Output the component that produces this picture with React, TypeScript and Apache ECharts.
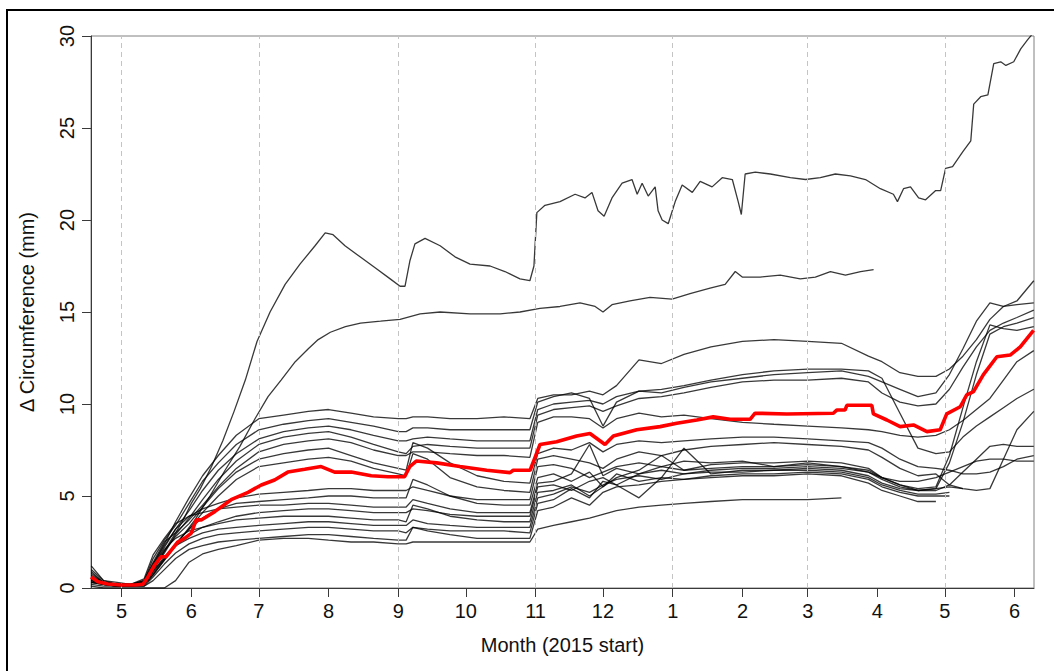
import { useEffect, useRef } from "react";
import * as echarts from "echarts";

// Day-of-year counted from 1 Jan 2015 (day 0); 2016 is a leap year.
const monthDays = [120, 151, 181, 212, 243, 273, 304, 334, 365, 396, 425, 456, 486, 517];
const monthLabels = ["5", "6", "7", "8", "9", "10", "11", "12", "1", "2", "3", "4", "5", "6"];
const dashedMonths = [120, 181, 243, 304, 365, 425, 486];

// Shared measurement days for the band of trees in the middle of the plot.
const gridDays = [
  106.5, 112, 118, 124, 130, 134, 139, 144, 150, 156, 163, 171, 181,
  192, 203, 212, 222, 232, 243, 246.5, 249.5, 256, 266, 278, 290, 301.5,
  305, 312, 320, 328, 334, 340, 350, 360, 370, 382, 396, 410, 425, 440, 452,
  458, 466, 474, 482, 488, 494, 500, 506, 512, 518, 525.5,
];

const tree01 = [0.9, 0.3, 0.2, 0.2, 0.3, 1.3, 2.4, 3.6, 4.9, 6.1, 7.2, 8.3, 9.2,
  9.4, 9.6, 9.7, 9.5, 9.3, 9.2, 9.2, 9.3, 9.3, 9.2, 9.2, 9.3, 9.2,
  10.3, 10.5, 10.5, 10.7, 10.5, 11.0, 12.4, 12.2, 12.7, 13.1, 13.4, 13.5, 13.4, 13.3, 12.6, 12.3, 11.7, 11.5,
  11.5, 11.9, 12.6, 13.5, 14.6, 15.3, 15.6, 16.7];
const tree02 = [1.2, 0.4, 0.2, 0.2, 0.4, 1.6, 2.6, 3.4, 4.6, 5.8, 6.8, 7.8, 8.6,
  8.9, 9.1, 9.2, 9.0, 8.8, 8.5, 8.5, 8.7, 8.7, 8.6, 8.6, 8.6, 8.6,
  10.1, 10.4, 10.6, 10.3, 8.8, 10.1, 10.7, 10.8, 11.0, 11.3, 11.6, 11.8, 11.9, 11.9, 11.8, 11.4, 9.5, 7.6,
  7.3, 7.4, 8.2, 8.8, 9.3, 9.8, 10.3, 10.8];
const tree03 = [0.7, 0.3, 0.2, 0.1, 0.3, 1.2, 2.2, 3.2, 4.2, 5.3, 6.4, 7.3, 8.1,
  8.5, 8.7, 8.8, 8.6, 8.3, 8.0, 8.0, 8.1, 8.2, 8.1, 8.0, 8.0, 8.0,
  9.7, 10.0, 10.1, 10.2, 10.0, 10.4, 10.7, 10.6, 10.9, 11.2, 11.4, 11.6, 11.7, 11.8, 11.5, 11.2, 10.8, 10.4,
  10.6, 11.6, 13.0, 14.5, 15.5, 15.3, 15.4, 15.5];
const tree04 = [0.5, 0.2, 0.1, 0.1, 0.2, 1.0, 1.9, 2.9, 3.8, 4.8, 5.9, 6.9, 7.8,
  8.2, 8.4, 8.5, 8.2, 7.8, 7.4, 7.3, 7.7, 7.8, 7.7, 7.6, 7.6, 7.6,
  9.4, 9.7, 9.8, 9.9, 9.6, 9.9, 10.3, 10.4, 10.6, 10.9, 11.2, 11.3, 11.3, 11.4, 11.2, 10.6, 10.1, 9.9,
  10.0, 10.8, 12.0, 13.1, 14.0, 14.4, 14.7, 15.1];
const tree05 = [1.0, 0.4, 0.3, 0.2, 0.4, 1.4, 2.5, 3.0, 3.7, 4.5, 5.5, 6.5, 7.4,
  7.8, 8.0, 8.1, 7.9, 7.5, 7.2, 7.2, 7.4, 7.4, 7.3, 7.2, 7.2, 7.1,
  9.0, 9.3, 9.3, 9.2, 8.7, 9.2, 9.5, 9.3, 9.4, 9.2, 9.0, 8.9, 8.8, 8.7, 8.6, 8.5, 8.3, 8.2,
  8.3, 8.6, 9.1, 9.7, 10.3, 11.3, 12.3, 12.9];
const tree06 = [0.6, 0.3, 0.2, 0.1, 0.3, 1.1, 2.0, 2.8, 3.5, 4.4, 5.4, 6.3, 7.0,
  7.3, 7.5, 7.6, 7.2, 6.8, 6.5, 6.4, 7.9, 7.6, 6.8, 6.1, 5.8, 5.7,
  7.3, 7.6, 7.5, 7.9, 7.4, 7.8, 8.0, 7.9, 8.0, 8.1, 8.2, 8.2, 8.1, 8.0, 7.9, 7.6, 7.0, 6.6,
  6.5, 6.4, 6.2, 6.2, 6.3, 6.6, 7.0, 7.2];
const tree07 = [0.8, 0.3, 0.2, 0.2, 0.3, 0.9, 1.6, 2.4, 3.2, 4.1, 5.0, 5.9, 6.6,
  6.8, 7.0, 7.1, 6.9, 6.5, 6.2, 6.1, 7.3, 7.0, 6.0, 5.5, 5.3, 5.2,
  7.0, 7.2, 7.0, 6.8, 6.5, 7.0, 7.4, 7.2, 7.5, 7.7, 7.8, 7.9, 7.8, 7.7, 7.5, 7.1, 6.5, 6.1,
  6.2, 5.6, 5.4, 5.3, 5.4, 7.0, 8.6, 9.6];
const tree08 = [0.4, 0.2, 0.1, 0.1, 0.4, 1.3, 2.3, 3.2, 3.9, 4.3, 4.6, 4.9, 5.1,
  5.2, 5.3, 5.4, 5.4, 5.3, 5.3, 5.3, 5.5, 5.3, 5.0, 4.8, 4.8, 4.8,
  6.6, 6.7, 6.5, 6.0, 6.3, 6.6, 6.8, 6.6, 6.9, 6.8, 6.9, 6.6, 6.8, 6.6, 6.4, 6.0, 5.6, 5.3,
  5.4, 6.8, 9.0, 11.6, 13.8, 14.2, 14.4, 14.7];
const tree09 = [0.3, 0.2, 0.1, 0.1, 0.2, 0.8, 1.6, 2.4, 3.2, 3.8, 4.3, 4.6, 4.7,
  4.8, 4.9, 5.0, 5.0, 4.9, 4.9, 4.9, 5.9, 5.6, 5.0, 4.6, 4.5, 4.5,
  6.0, 6.2, 5.8, 6.3, 5.5, 6.0, 6.4, 7.2, 6.4, 6.5, 6.6, 6.6, 6.7, 6.6, 6.3, 5.9, 5.5, 5.3,
  5.3, 5.6, 6.3, 7.0, 7.7, 7.8, 7.7, 7.7];
const tree10 = [0.5, 0.3, 0.2, 0.2, 0.5, 1.8, 2.7, 3.5, 3.9, 4.1, 4.3, 4.4, 4.5,
  4.5, 4.6, 4.6, 4.5, 4.4, 4.4, 4.4, 4.8, 4.6, 4.3, 4.1, 4.1, 4.1,
  5.7, 5.8, 6.2, 7.8, 6.1, 6.5, 6.2, 6.6, 6.4, 6.7, 6.8, 6.8, 6.9, 6.8, 6.5, 6.0, 5.6, 5.4,
  5.5, 7.2, 9.8, 12.3, 14.3, 14.1, 14.0, 14.2];
const tree11 = [0.3, 0.2, 0.1, 0.1, 0.2, 0.7, 1.5, 2.3, 2.9, 3.3, 3.6, 3.9, 4.1,
  4.2, 4.3, 4.3, 4.2, 4.1, 4.1, 4.1, 4.3, 4.2, 4.0, 3.9, 3.9, 3.9,
  5.5, 5.6, 5.3, 5.8, 6.0, 5.6, 6.2, 6.4, 6.2, 6.4, 6.5, 6.5, 6.6, 6.5, 6.3, 6.0, 5.8, 5.8,
  6.0, 6.3, 6.6, 6.9, 7.0, 7.0, 6.9, 6.9];
const tree12 = [0.6, 0.2, 0.2, 0.1, 0.3, 1.2, 2.1, 2.7, 3.1, 3.3, 3.5, 3.7, 3.8,
  3.9, 3.9, 3.9, 3.8, 3.7, 3.7, 3.6, 4.5, 4.3, 3.9, 3.7, 3.6, 3.6,
  5.2, 5.3, 5.6, 5.0, 5.5, 6.2, 5.8, 6.0, 7.6, 6.2, 6.4, 6.4, 6.5, 6.4, 6.1, 5.7, 5.4, 5.3,
  5.4, 5.5, 5.4, null, null, null, null, null];
const tree13 = [0.4, 0.3, 0.2, 0.2, 0.2, 0.9, 1.7, 2.3, 2.7, 3.0, 3.2, 3.3, 3.4,
  3.5, 3.6, 3.6, 3.5, 3.4, 3.4, 3.4, 3.7, 3.5, 3.4, 3.3, 3.3, 3.3,
  4.9, 5.1, 5.5, 5.2, 5.6, 5.9, 6.1, 5.9, 6.2, 6.3, 6.3, 6.4, 6.4, 6.3, 6.0, 5.6, 5.3, 5.1,
  5.1, 5.2, null, null, null, null, null, null];
const tree14 = [0.3, 0.2, 0.1, 0.1, 0.1, 0.6, 1.3, 1.9, 2.4, 2.7, 2.9, 3.0, 3.1,
  3.2, 3.3, 3.3, 3.2, 3.1, 3.1, 3.0, 3.3, 3.2, 3.1, 3.1, 3.1, 3.0,
  4.6, 4.8, 5.4, 4.9, 5.8, 5.6, 4.9, 6.0, 5.9, 6.1, 6.2, 6.2, 6.3, 6.2, 5.9, 5.5, 5.2, 5.0,
  5.0, 5.0, null, null, null, null, null, null];
const tree15 = [0.2, 0.1, 0.1, 0.1, 0.1, 0.4, 1.0, 1.6, 2.1, 2.3, 2.5, 2.6, 2.7,
  2.8, 2.9, 2.9, 2.8, 2.7, 2.6, 2.6, 3.3, 3.1, 2.9, 2.7, 2.7, 2.7,
  4.2, 4.4, 4.9, 4.5, 5.2, 5.5, 5.6, 5.8, 5.9, 6.0, 6.1, 6.1, 6.2, 6.1, 5.7, 5.3, 5.0, 4.7,
  4.7, null, null, null, null, null, null, null];
const tree16 = [0.1, 0.0, 0.0, 0.0, 0.0, 0.0, 0.0, 0.4, 1.4, 1.85, 2.1, 2.3, 2.6,
  2.7, 2.7, 2.6, 2.5, 2.5, 2.4, 2.4, 2.5, 2.5, 2.5, 2.5, 2.5, 2.5,
  3.2, 3.4, 3.6, 3.8, 4.0, 4.2, 4.4, 4.5, 4.6, 4.7, 4.8, 4.8, 4.8, 4.9, null, null, null, null,
  null, null, null, null, null, null, null, null];

const bandTrees = [tree01, tree02, tree03, tree04, tree05, tree06, tree07, tree08,
  tree09, tree10, tree11, tree12, tree13, tree14, tree15, tree16];

// The two fastest-growing trees, as [day, mm] pairs.
const treeTop: [number, number][] = [
  [106.5, 0.5], [113, 0.2], [120, 0.1], [128, 0.2], [132, 0.5], [137, 1.6], [142, 2.6], [147, 3.6],
  [151, 4.6], [155, 5.4], [160, 6.6], [165, 8.0], [170, 9.6], [175, 11.3], [180.2, 13.4], [186, 15.0],
  [192.7, 16.5], [199.3, 17.6], [206, 18.6], [210.5, 19.3], [214, 19.2], [219.3, 18.6], [226, 18.0],
  [232.7, 17.4], [239.4, 16.8], [243.8, 16.4], [246, 16.4], [248.2, 17.8], [250.4, 18.7], [254.9, 19.0],
  [261.6, 18.6], [268.2, 18.0], [274.9, 17.6], [283.8, 17.5], [290.4, 17.2], [297.1, 16.8], [301.5, 16.7],
  [303.3, 17.5], [304.6, 20.4], [308.2, 20.8], [314.9, 21.0], [321.6, 21.4], [326, 21.2], [329.1, 21.5],
  [331.8, 20.5], [334.5, 20.2], [338, 21.2], [342.5, 22.0], [346.9, 22.2], [349.2, 21.4], [351.4, 22.0],
  [354.1, 21.3], [357.2, 21.8], [358.5, 20.5], [360.3, 20.0], [363, 19.8], [366.1, 21.0], [369.2, 21.9],
  [373.7, 21.5], [377.2, 22.1], [382.5, 21.8], [387, 22.3], [391.5, 22.2], [394.1, 21.0], [395.5, 20.3],
  [397.2, 22.5], [401.7, 22.6], [408.4, 22.5], [417.3, 22.3], [424, 22.2], [430.6, 22.3], [437.3, 22.5],
  [444, 22.4], [450.7, 22.2], [457.3, 21.7], [463.1, 21.4], [464.9, 21.0], [467.6, 21.7], [470.7, 21.8],
  [474.3, 21.2], [477.4, 21.1], [481.9, 21.6], [484.1, 21.6], [486.3, 22.8], [489.4, 22.9], [493.9, 23.7],
  [497.5, 24.3], [498.8, 26.3], [501.9, 26.7], [505.1, 26.8], [507.7, 28.5], [510.8, 28.6], [513.1, 28.4],
  [516.6, 28.6], [519.7, 29.3], [522.8, 29.8], [525.5, 30.2],
];
const treeSecond: [number, number][] = [
  [106.5, 0.4], [113, 0.2], [120, 0.1], [128, 0.2], [132, 0.4], [137, 1.2], [142, 2.0], [147, 2.8],
  [152.6, 3.7], [159.3, 5.0], [166, 6.4], [172.6, 7.7], [179.3, 9.2], [185.1, 10.4], [190.9, 11.3],
  [197.2, 12.3], [203, 13.0], [207.4, 13.5], [212.8, 13.9], [219.5, 14.2], [226.2, 14.4], [235.1, 14.5],
  [243.8, 14.6], [252.7, 14.9], [261.6, 15.0], [274.9, 14.9], [288.3, 14.9], [297.1, 15.0], [306, 15.2],
  [314.9, 15.3], [323.8, 15.5], [330.5, 15.3], [334, 15.0], [338, 15.4], [346, 15.6], [354.9, 15.8],
  [364.7, 15.7], [372.7, 16.0], [381.6, 16.3], [388.3, 16.5], [392.8, 17.2], [395.9, 16.9], [403.9, 16.9],
  [412.8, 17.0], [421.7, 16.8], [428.4, 16.9], [435.1, 17.2], [441.8, 17.0], [448.5, 17.2], [454.3, 17.3],
];

// Mean of all trees, as [day, mm] pairs.
const meanLine: [number, number][] = [
  [106.4, 0.6], [109.5, 0.34], [113.9, 0.22], [119.7, 0.16], [125.9, 0.16], [129.5, 0.2], [131.7, 0.6],
  [134.7, 1.25], [137.6, 1.7], [139.8, 1.7], [142.1, 2.06], [145, 2.5], [148, 2.7], [150.9, 2.97],
  [153.2, 3.7], [155.4, 3.7], [161.4, 4.15], [168.7, 4.8], [176.2, 5.2], [182.1, 5.6], [188, 5.87],
  [193.9, 6.3], [201.4, 6.45], [208.7, 6.6], [214.7, 6.3], [222.1, 6.3], [231, 6.1], [238.4, 6.05],
  [245.8, 6.05], [248.1, 6.6], [251, 6.9], [260.1, 6.8], [270.4, 6.6], [282.3, 6.4], [292.7, 6.27],
  [294.1, 6.4], [301.6, 6.4], [303.8, 7.1], [306, 7.8], [313.4, 7.95], [322.3, 8.26], [328.2, 8.4],
  [334.9, 7.8], [338.6, 8.26], [349, 8.6], [359.4, 8.77], [366.8, 8.95], [375.7, 9.13], [383, 9.3],
  [390.5, 9.17], [399.4, 9.17], [401.6, 9.5], [415.7, 9.46], [436.4, 9.5], [437.9, 9.67], [441.6, 9.67],
  [442.4, 9.93], [453.5, 9.93], [454.2, 9.46], [460.2, 9.13], [466.1, 8.77], [472, 8.86], [478, 8.5],
  [483.9, 8.6], [486.8, 9.46], [492.8, 9.85], [495.7, 10.5], [498.7, 10.67], [503.1, 11.6],
  [509.1, 12.57], [515, 12.66], [519.5, 13.1], [525.4, 14.0],
];

const FONT = "'Liberation Sans', Arial, Helvetica, sans-serif";
const TEXT = "#111";
const AXIS = "#3a3a3a";

export default function App() {
  const ref = useRef<HTMLDivElement>(null);

  useEffect(() => {
    if (!ref.current) return;
    const chart = echarts.init(ref.current, undefined, { renderer: "svg" });

    const thinLine = {
      type: "line" as const,
      showSymbol: false,
      symbol: "none",
      silent: true,
      z: 2,
      lineStyle: { color: "rgba(0,0,0,0.78)", width: 1.3 },
    };

    const bandSeries = bandTrees.map((vals, k) => ({
      ...thinLine,
      name: `tree${k + 1}`,
      data: gridDays
        .map((d, i) => (vals[i] == null ? null : [d, vals[i]]))
        .filter((p) => p !== null),
    }));

    chart.setOption({
      animation: false,
      backgroundColor: "#ffffff",
      grid: {
        left: 91,
        top: 36,
        width: 943,
        height: 552,
        show: true,
        borderColor: "#808080",
        borderWidth: 1,
        backgroundColor: "transparent",
      },
      xAxis: {
        type: "value",
        min: 106.4,
        max: 525.6,
        axisLine: { show: true, onZero: false, lineStyle: { color: AXIS, width: 1 } },
        axisTick: { show: true, length: 9, customValues: monthDays, lineStyle: { color: AXIS } },
        axisLabel: {
          customValues: monthDays,
          formatter: (v: number) => {
            const i = monthDays.indexOf(Math.round(v));
            return i >= 0 ? monthLabels[i] : "";
          },
          margin: 13,
          fontSize: 20,
          color: TEXT,
          fontFamily: FONT,
        },
        splitLine: { show: false },
        name: "Month (2015 start)",
        nameLocation: "middle",
        nameGap: 47,
        nameTextStyle: { fontSize: 20, color: TEXT, fontFamily: FONT },
      },
      yAxis: {
        type: "value",
        min: 0,
        max: 30,
        interval: 5,
        axisLine: { show: true, onZero: false, lineStyle: { color: AXIS, width: 1 } },
        axisTick: { show: true, length: 9, lineStyle: { color: AXIS } },
        axisLabel: { rotate: 90, margin: 14, fontSize: 20, color: TEXT, fontFamily: FONT },
        splitLine: { show: false },
        name: "Δ Circumference (mm)",
        nameLocation: "middle",
        nameRotate: 90,
        nameGap: 54,
        nameTextStyle: { fontSize: 20, color: TEXT, fontFamily: FONT },
      },
      graphic: [
        {
          type: "rect",
          silent: true,
          z: 100,
          shape: { x: 7, y: 10, width: 1100, height: 700 },
          style: { fill: "none", stroke: "#000", lineWidth: 2 },
        },
      ],
      series: [
        {
          ...thinLine,
          name: "grid",
          data: [],
          z: 1,
          markLine: {
            silent: true,
            symbol: ["none", "none"],
            label: { show: false },
            lineStyle: { color: "#c4c4c4", type: [5, 4], width: 1 },
            data: dashedMonths.map((d) => ({ xAxis: d })),
          },
        },
        { ...thinLine, name: "treeTop", data: treeTop },
        { ...thinLine, name: "treeSecond", data: treeSecond },
        ...bandSeries,
        {
          type: "line",
          name: "mean",
          showSymbol: false,
          symbol: "none",
          silent: true,
          z: 10,
          data: meanLine,
          lineStyle: { color: "#ff0000", width: 3.6 },
        },
      ],
    });

    return () => chart.dispose();
  }, []);

  return (
    <div
      ref={ref}
      style={{ position: "fixed", left: 0, top: 0, width: 1054, height: 671, background: "#fff" }}
    />
  );
}
